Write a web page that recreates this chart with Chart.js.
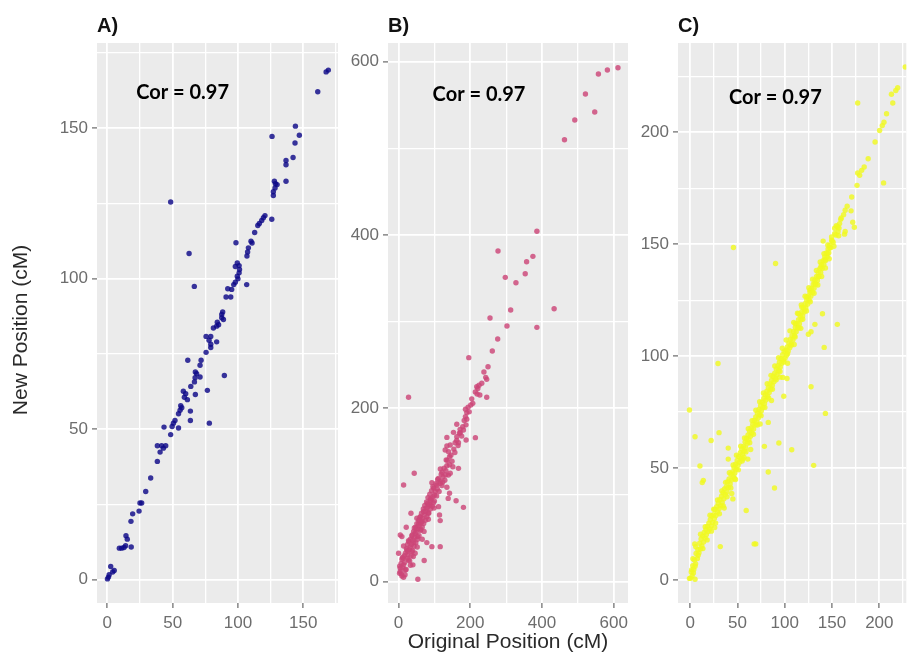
<!DOCTYPE html>
<html><head><meta charset="utf-8">
<script src="https://cdn.jsdelivr.net/npm/chart.js@4.4.1/dist/chart.umd.min.js"></script>
<style>
html,body{margin:0;padding:0;background:#fff;width:909px;height:654px;overflow:hidden;}
canvas{position:absolute;top:0;}
</style></head><body>
<canvas id="cA" width="345" height="654" style="left:0px"></canvas>
<canvas id="cB" width="290" height="654" style="left:345px"></canvas>
<canvas id="cC" width="274" height="654" style="left:635px"></canvas>
<script>
// ---------------- text ----------------
const panelLabels = ['A)', 'B)', 'C)'];
const corLabels = ['Cor = 0.97', 'Cor = 0.97', 'Cor = 0.97'];
const xAxisTitle = 'Original Position (cM)';
const yAxisTitle = 'New Position (cM)';

// ---------------- tick values ----------------
const ticksA = [0, 50, 100, 150];
const gridA = [0, 25, 50, 75, 100, 125, 150, 175];
const ticksB = [0, 200, 400, 600];
const gridB = [0, 100, 200, 300, 400, 500, 600];
const ticksC = [0, 50, 100, 150, 200];
const gridC = [0, 25, 50, 75, 100, 125, 150, 175, 200, 225];

// annotation anchor (data units)
const corPosA = [57.6, 161.9];
const corPosB = [224.4, 562];
const corPosC = [90.1, 215.6];

// ---------------- panel A ----------------
const aX = [169.2,167.5,161.1,144,126.1,147,143.7,142.2,136.8,136.8,136.8,127.9,128.7,130,128.4,127.1,127.1,48.5,120.7,119.5,118.2,115.2,116.4,125.9,112.8,110,110.8,98.5,108,107.4,106.9,62.6,66.6,106.7,99.5,100.9,98,101.2,100.9,99.5,100,98,96.8,92.2,95.2,90.9,94.5,88.3,87.6,87.6,84.2,85.2,81.2,88.9,83.7,75.6,79.2,77.9,83.7,79.2,79.2,75.6,61.6,71.8,71.0,67.4,68.4,71.0,89.6,67.2,66.7,63.9,76.6,58.2,60,67.4,59,61.3,56.2,57,55.7,54.5,63.6,63.6,78.1,51.8,50.6,43.4,49.6,54.5,48.5,38.3,41.6,44.7,42.9,40.4,38.3,33.2,29.4,26.3,25,24.3,19.4,18.1,14.3,15.3,9.2,11,12.8,14,18.3,2.6,5.3,4.1,1.4,0.1,0.9];
const aY = [169.2,168.6,162.0,150.6,147.2,147.6,145,140.2,139.2,137.8,132.3,132.3,131.5,131.2,130.1,128.8,127.6,125.4,120.9,120.2,119.3,117.6,118.3,119.7,115.3,112.4,111.8,111.9,110.2,108.8,107.5,108.3,97.4,98,105.2,104.3,104,103,101.9,100.8,99.9,98.8,98.0,96.6,96.4,93.9,93.9,88.9,88.1,87.0,85.5,84.7,83.6,86.4,84.2,80.8,80.8,79.5,79.0,78.2,77.1,75.5,72.9,72.9,71.2,69.0,68.4,67.3,67.8,67.1,65.7,64.2,62.9,62.6,61.8,61.5,60.6,59.8,57.8,57.1,56.3,55.1,56.0,52.9,52.0,52.9,52.0,50.7,50.9,50.4,48.2,44.5,44.5,44.5,43.7,42.4,39.3,33.8,29.3,25.5,25.5,22.8,21.9,19.4,14.6,13.5,10.5,10.5,10.7,11.3,10.9,4.4,3.1,2.6,1.7,0.3,0.9];

// ---------------- panel B ----------------
const bX = [611.8,582.3,557.3,521.1,547,491.4,462.7,385.7,277.3,374.6,357,353.2,297.6,327.3,312.6,433.8,255,302.3,385.7,276.4,261.4,195.8,249.4,243,245.8,224.4,218,221,245.8,219,226.6,27.8,206.9,201.4,193.9,186.5,190.2,186.5,190.2,162.3,179,171.6,180.9,169.8,153.1,162.3,188.3,214.2,157.7,167,134.7,144,134.7,130,139.3,142.1,132.8,134.7,151.3,167,116.5,121.2,144,43.7,131.1,92.9,95.7,106.8,116.1,14,134.7,142.1,100.3,138.4,88.2,160.4,80.7,97.4,88.2,111.4,180.9,77,69.6,83.5,34.5,114.2,60.3,51,116.1,65,55.7,21.4,49.1,62.1,4.7,9.3,37.1,46.3,52.8,27.8,41.7,78.8,14,32.5,92.9,116.1,23.2,37.1,0,46.3,9.3,27.8,71.4,39.9,14,4.7,18.6,2.8,9.3,14,53.8,4.7,
  3,7,8,11,12,16,17,19,21,22,24,25,26,29,30,31,33,35,36,38,39,40,42,43,45,47,48,49,51,53,54,56,57,58,60,61,63,64,66,67,69,70,72,73,75,76,78,79,81,82,84,86,87,89,90,92,94,96,98,100,102,104,106,108,111,113,116,119,121,124,127,129,132,136,139,142,146,149,154,157,162,166,172,176,183,188,197,204,214,232,238,
  13,18,26,33,41,44,52,59,66,71,83,91,99,109,123];
const bY = [593.1,590.4,585.8,562.7,541.9,532.7,510,404.3,381.6,375.4,369.2,355.4,351.2,345,313.5,315,304.3,295,293.5,280,266.2,258.5,248.1,235.8,233.5,226.6,225,223,212.8,216.6,215.5,212.8,205.8,203.9,201.2,198.9,195.1,190.5,187.4,181.6,178.9,175.8,175,171.2,172.3,167.3,163.5,166.2,160.4,160.4,166.5,157.7,156.6,152,150,144.3,140.4,133.9,132.7,130.8,130.1,126.2,125.1,125.1,123.2,114.3,109.6,111.5,113.4,111.5,108.9,102,100,96.1,95,93.4,90.4,91.2,88.5,86.6,85.8,84.7,80.8,79.6,78.9,77,75.1,73.2,70.5,69.4,66.7,62.8,61.6,60.4,53.9,52,52.7,55.8,52,47.4,45.1,45.1,41.2,40.4,40.4,40.4,36.6,34.7,32.8,32.8,25.9,25.1,24.4,19.4,19.4,15.5,13.6,9.7,6.6,5.1,2.8,11.7,
  18,21,9,28,16,30,22,33,14,38,27,43,31,46,37,24,49,30,43,54,36,48,58,41,51,63,45,57,67,49,61,71,53,65,74,59,68,79,63,73,84,67,77,88,71,81,92,75,86,97,79,89,101,84,94,105,87,98,108,93,104,113,99,107,119,104,116,124,111,121,131,117,128,140,123,135,146,139,153,149,163,157,172,168,186,181,196,211,219,229,242,
  27,8,35,19,29,62,40,71,49,58,72,96,85,118,115];

// ---------------- panel C ----------------
const cX = [227.4,219.4,217.4,212.8,214.2,177.1,207.6,204.9,203.1,200.3,195.5,188.2,184,181.3,177.1,179.2,204.5,176.4,170.8,166,163.9,170.1,162.2,159.7,158,171.9,173.6,152.8,156.3,163.9,163.2,150,147.6,140.6,45.8,145.1,142.4,90.3,138.2,135.4,131.9,126.7,123.3,118.1,114.6,139.9,111.1,131.9,155.6,127.8,125,141.7,29.5,102.4,98,127.8,99,-0.7,143,82.6,5.2,30.6,22.2,40.3,40.3,55.9,61,78.5,93.8,107.4,130.6,10.4,82.6,89.2,12.8,14,45.2,59.3,67.7,69.4,31.9,4.9,-0.7,5.2,3.5,1.7,5.2,
  0.3,1.2,2.1,2.8,3.9,4.6,5.8,6.3,7.7,8.2,9.4,10.1,10.9,11.6,12.4,13.3,14.2,14.8,15.9,16.7,17.2,18.4,19.1,19.8,
  20.6,21.3,22.4,23.1,23.9,24.7,25.6,26.2,27.3,28.1,28.9,29.7,30.8,31.4,32.3,33.2,33.9,34.8,35.7,36.3,37.1,38.2,38.9,39.6,
  40.4,41.2,42.3,43.1,43.8,44.9,45.6,46.4,47.3,48.1,48.8,49.7,50.6,51.3,52.2,53.1,53.9,54.6,55.4,56.3,57.2,58.1,58.8,59.6,
  60.5,61.2,62.1,62.9,63.8,64.6,65.3,66.2,67.1,67.8,68.7,69.4,70.3,71.2,72.1,72.8,73.6,74.5,75.3,76.1,77,77.9,78.6,79.4,
  80.2,81.1,81.9,82.7,83.6,84.4,85.2,86.1,86.9,87.7,88.6,89.4,90.2,91.1,91.9,92.8,93.6,94.4,95.3,96.1,96.9,97.8,98.6,99.4,
  100.3,101.1,101.9,102.8,103.6,104.5,105.3,106.1,107,107.8,108.7,109.5,110.4,111.2,112.1,112.9,113.8,114.6,115.5,116.3,117.2,118.1,118.9,119.8,
  120.6,121.5,122.4,123.2,124.1,125,125.8,126.7,127.6,128.4,129.3,130.2,131,131.9,132.8,133.6,134.5,135.4,136.2,137.1,138,138.8,139.7,140.6,
  141.4,142.3,143.2,144,144.9,145.8,146.6,147.5,148.6,149.7,151.2,152.8,154.1,155.9,157.4,159.2,
  3,6,8.5,11,13.5,16,18,21,22.5,25,27,29,31,33.5,35,37.5,39,41.5,43,45.5,47,49,51,53.5,55,57.5,59,61.5,63,65.5,67,69.5,71,73.5,75,77.5,79,81.5,83,85.5,87,89.5,91,93.5,95,97.5,99,101.5,103,105.5,107,109.5,111,113.5,115,117.5,119,121.5,123,125.5,127,129.5,131,133.5,135,137.5,139,141.5,143,145.5,147,149.5,152,154.5,157,
  26,36,44,48,57,64,74,86,95,103,110,117];
const cY = [229.2,219.9,218.7,217,213.1,213.1,208.3,204.5,203,200.8,195.7,188.2,184.5,183,181.8,180.8,177.4,176.3,171.1,167,165.2,164.9,163.2,161.7,159.2,159.8,157.6,157.1,155.7,155.7,154.5,151.4,148.4,151.4,148.5,145.8,143.1,141.4,139.8,135.4,132.4,129.4,126.4,121.9,118.9,118.9,114.5,114.2,114.2,110.9,109.8,103.9,96.7,90,90.5,86.3,82.1,75.9,74.4,70.4,64,65.8,62.3,58.9,54,54,54,59.7,61.2,58.2,51.2,50.9,48.2,41.1,43.5,44.5,36.2,31,16.1,16.1,14.9,16.1,0.7,0.3,3.1,4.6,6.1,
  0.8,3.6,1.9,6.4,4.7,8.9,7.2,11.8,9.6,13.5,12.1,16.4,13.8,18.3,15.2,19.6,16.9,21.2,18.7,22.5,20.3,23.9,21.6,25.4,
  22.8,26.9,24.1,28.6,25.7,29.2,27.4,31.5,28.8,32.7,30.4,34.3,31.9,35.8,33.2,37.4,34.6,38.9,36.3,40.7,38.2,41.6,39.4,43.8,
  41.3,45.1,42.9,47.2,44.6,48.3,46.1,50.2,47.8,51.7,49.5,53.4,51.2,55.1,52.6,56.8,54.3,58.5,56.2,59.7,57.6,61.6,59.1,63.2,
  61.1,64.8,62.7,66.4,64.2,67.9,65.8,69.6,67.4,71.3,69.2,72.8,70.6,74.5,72.3,76.2,73.9,77.8,75.6,79.4,77.2,81.1,78.8,82.7,
  80.4,84.3,82.1,85.9,83.8,87.6,85.3,89.2,87,90.9,88.5,92.4,90.1,94.2,91.8,95.7,93.5,97.3,95.1,98.9,96.8,100.6,98.4,102.1,
  99.1,102.6,100.4,104.1,102.2,105.8,103.7,107.6,105.4,109.2,107.3,111,109.1,112.8,110.9,114.5,112.6,116.3,114.4,118.1,116.2,119.8,117.9,121.6,
  119.7,123.4,121.5,125.1,123.2,126.9,125,128.6,126.8,130.4,128.5,132.1,130.3,133.9,132.1,135.6,133.8,137.4,135.6,139.1,137.4,140.9,139.1,142.6,
  140.9,144.4,142.7,146.1,144.4,147.9,146.2,149.6,148.4,151.8,150.9,154.7,154.1,157.8,157.2,161.1,
  9.5,14.8,11,20.4,14,23.8,17.9,28.9,21.8,31.6,25.4,35.7,29.6,39.8,33.1,43.6,37.2,47.9,41.1,51.4,45.3,55.7,49.2,59.8,53.1,63.4,57.2,67.6,61.3,71.2,65.1,75.8,69.2,79.6,73.4,83.5,77.1,87.7,81.3,91.4,85.2,95.6,89.4,99.3,93.1,103.5,97.4,107.2,101.1,111.3,104.9,115.1,108.6,119.2,112.7,122.9,116.5,126.8,120.2,130.6,124.3,134.4,128.1,138.3,131.8,142.1,135.6,145.8,139.4,149.7,143.5,153.2,149.1,158.3,153.8,
  23.4,32.1,38.6,44.9,54.8,58.3,69.7,80.2,90.6,96.8,105.2,112.4];

// ---------------- styling ----------------
const PANEL_BG = '#EBEBEB';
const TICK_TEXT = '#6d6d6d';
const TICK_MARK = '#5a5a5a';

const decor = {
  id: 'decor',
  beforeDraw(chart, args, o) {
    const { ctx, chartArea: a } = chart;
    ctx.save();
    ctx.fillStyle = PANEL_BG;
    ctx.fillRect(a.left, a.top, a.right - a.left, a.bottom - a.top);
    ctx.restore();
  },
  afterDraw(chart, args, o) {
    const { ctx, chartArea: a, scales } = chart;
    ctx.save();
    ctx.fillStyle = '#111';
    ctx.font = 'bold 20px "Liberation Sans", Arial, sans-serif';
    ctx.textAlign = 'left';
    ctx.textBaseline = 'alphabetic';
    ctx.fillText(o.label, a.left, 32);
    ctx.fillStyle = '#000';
    ctx.font = 'bold 20px Lato, "Open Sans", sans-serif';
    ctx.textAlign = 'center';
    ctx.textBaseline = 'middle';
    ctx.fillText(o.cor, scales.x.getPixelForValue(o.corAt[0]), scales.y.getPixelForValue(o.corAt[1]));
    ctx.fillStyle = '#2a2a2a';
    ctx.font = '21px "Liberation Sans", Arial, sans-serif';
    if (o.xTitle) {
      ctx.textAlign = 'center';
      ctx.textBaseline = 'alphabetic';
      ctx.fillText(o.xTitle, (a.left + a.right) / 2, 648);
    }
    if (o.yTitle) {
      ctx.translate(27, 330);
      ctx.rotate(-Math.PI / 2);
      ctx.textAlign = 'center';
      ctx.textBaseline = 'alphabetic';
      ctx.fillText(o.yTitle, 0, 0);
    }
    ctx.restore();
  }
};

function axis(min, max, grid, majors, size, isX) {
  const isMajor = v => majors.includes(v);
  return {
    type: 'linear',
    min: min, max: max,
    afterBuildTicks: s => { s.ticks = grid.filter(v => v >= min && v <= max).map(v => ({ value: v })); },
    afterFit: s => { if (isX) s.height = size; else s.width = size; },
    ticks: {
      autoSkip: false, maxRotation: 0,
      padding: isX ? 5 : 4,
      color: TICK_TEXT,
      font: { family: '"Liberation Sans", Arial, sans-serif', size: 17 },
      callback: v => isMajor(v) ? String(v) : ''
    },
    grid: {
      color: '#ffffff',
      lineWidth: c => (c.tick && isMajor(c.tick.value)) ? 1.8 : 1.3,
      drawTicks: true,
      tickLength: 5,
      tickWidth: 1.1,
      tickColor: c => (c.tick && isMajor(c.tick.value)) ? TICK_MARK : 'rgba(0,0,0,0)'
    },
    border: { display: false }
  };
}

function makePanel(id, xs, ys, color, cfg) {
  const pts = xs.map((x, i) => ({ x: x, y: ys[i] }));
  return new Chart(document.getElementById(id), {
    type: 'scatter',
    data: { datasets: [{ data: pts, backgroundColor: color, borderWidth: 0, pointRadius: 2.7, pointHoverRadius: 2.7 }] },
    options: {
      responsive: false, animation: false, devicePixelRatio: 1, events: [],
      layout: { padding: { top: 43, right: cfg.padRight, left: 0, bottom: 0 } },
      plugins: { legend: { display: false }, tooltip: { enabled: false },
        decor: { label: cfg.label, cor: cfg.cor, corAt: cfg.corAt, xTitle: cfg.xTitle, yTitle: cfg.yTitle } },
      scales: {
        x: axis(cfg.xr[0], cfg.xr[1], cfg.grid, cfg.ticks, 51, true),
        y: axis(cfg.yr[0], cfg.yr[1], cfg.grid, cfg.ticks, cfg.yw, false)
      }
    },
    plugins: [decor]
  });
}

makePanel('cA', aX, aY, 'rgba(13,8,135,0.82)', {
  label: panelLabels[0], cor: corLabels[0], corAt: corPosA, yTitle: yAxisTitle,
  xr: [-7.9, 176.6], yr: [-7.7, 178.2], grid: gridA, ticks: ticksA, yw: 97, padRight: 7
});
makePanel('cB', bX, bY, 'rgba(204,70,120,0.82)', {
  label: panelLabels[1], cor: corLabels[1], corAt: corPosB, xTitle: xAxisTitle,
  xr: [-29.5, 639.8], yr: [-24.6, 621.6], grid: gridB, ticks: ticksB, yw: 43, padRight: 7
});
makePanel('cC', cX, cY, 'rgba(240,249,33,0.82)', {
  label: panelLabels[2], cor: corLabels[2], corAt: corPosC,
  xr: [-12.8, 228.5], yr: [-10.3, 239.9], grid: gridC, ticks: ticksC, yw: 43, padRight: 0
});
</script>
</body></html>
